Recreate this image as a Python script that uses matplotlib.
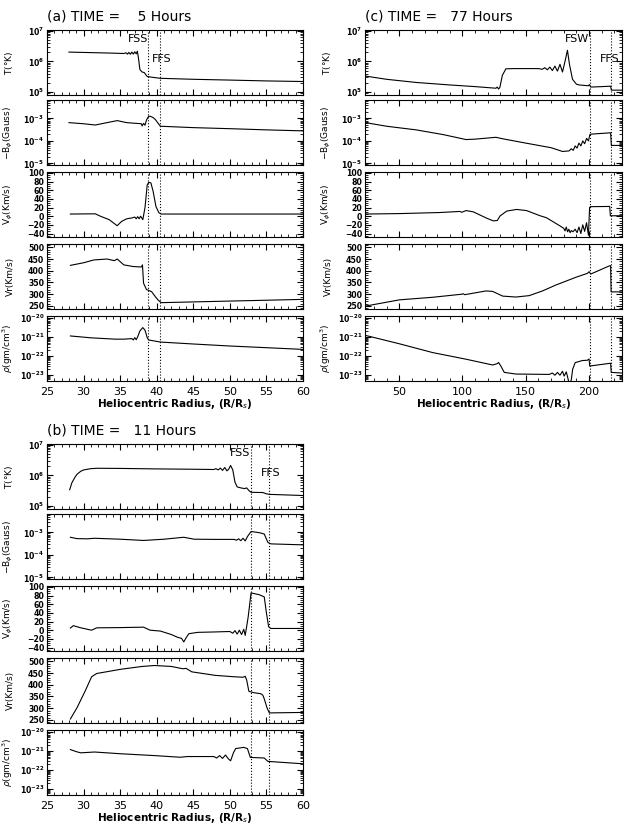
import matplotlib
matplotlib.use("Agg")
import matplotlib.pyplot as plt
from matplotlib.ticker import MultipleLocator, LogLocator, NullFormatter

plt.rcParams['font.family'] = 'DejaVu Sans'

# ---------------- panel (a) TIME = 5 hours ----------------
a_T_r = [28.0, 30.0, 32.0, 34.0, 35.5, 35.8, 36.0, 36.2, 36.4, 36.6, 36.8, 37.0, 37.2, 37.35,
         37.5, 37.7, 38.0, 38.3, 38.7, 39.5, 40.5, 45.0, 50.0, 55.0, 60.0]
a_T_v = [2.0e6, 1.95e6, 1.9e6, 1.85e6, 1.8e6, 1.9e6, 1.72e6, 1.95e6, 1.7e6, 2.0e6, 1.72e6, 2.05e6,
         1.75e6, 2.15e6, 1.3e6, 5.4e5, 4.5e5, 4.3e5, 3.2e5, 3.0e5, 2.8e5, 2.6e5, 2.45e5, 2.3e5, 2.2e5]

a_B_r = [28.0, 30.0, 31.6, 33.0, 34.6, 35.9, 37.9, 38.0, 38.2, 38.4, 38.6, 38.9, 39.1, 39.5,
         39.8, 40.5, 45.0, 50.0, 55.0, 60.0]
a_B_v = [6.5e-4, 5.8e-4, 5.1e-4, 6.3e-4, 8.0e-4, 6.5e-4, 5.8e-4, 4.6e-4, 6.0e-4, 5.0e-4, 8.5e-4,
         1.25e-3, 1.25e-3, 1.1e-3, 9.0e-4, 4.5e-4, 3.9e-4, 3.5e-4, 3.1e-4, 2.8e-4]

a_V_r = [28.2, 31.6, 32.3, 33.5, 34.6, 35.2, 35.9, 36.6, 37.0, 37.2, 37.4, 37.6, 37.8, 38.1,
         38.4, 38.7, 38.9, 39.2, 39.5, 39.9, 40.3, 40.6, 60.0]
a_V_v = [5, 5.5, 0, -8, -22, -12, -6, -4, -2, -6, -1, -6, 0, -8,
         20, 72, 78, 77, 58, 22, 8, 5, 5]

a_Vr_r = [28.2, 30.0, 31.4, 33.2, 34.2, 34.6, 35.5, 36.8, 37.9, 38.05, 38.2, 38.6, 39.3, 39.8,
          40.2, 40.6, 60.0]
a_Vr_v = [423, 434, 446, 450, 443, 450, 425, 418, 416, 425, 347, 320, 311, 290,
          275, 264, 278]

a_rho_r = [28.2, 31.0, 34.3, 35.5, 36.6, 36.8, 37.0, 37.2, 37.4, 37.7, 38.1, 38.4, 38.7, 38.9,
           40.5, 45.0, 50.0, 55.0, 60.0]
a_rho_v = [1.1e-21, 8.8e-22, 7.5e-22, 7.5e-22, 8.0e-22, 6.8e-22, 9.0e-22, 7.0e-22, 1.0e-21, 2.0e-21,
           3.0e-21, 2.2e-21, 9.0e-22, 6.8e-22, 5.3e-22, 4.2e-22, 3.3e-22, 2.7e-22, 2.2e-22]

# ---------------- panel (b) TIME = 11 hours ----------------
b_T_r = [28.1, 28.4, 28.8, 29.1, 29.6, 30.0, 31.0, 31.8, 35.0, 40.0, 45.0, 47.8, 48.1, 48.4,
         48.7, 49.0, 49.3, 49.6, 49.85, 50.1, 50.4, 50.7, 51.0, 51.5, 52.0, 52.3, 52.6, 52.9,
         54.5, 55.0, 55.4, 60.0]
b_T_v = [3.4e5, 5.7e5, 8.5e5, 1.08e6, 1.35e6, 1.5e6, 1.65e6, 1.7e6, 1.68e6, 1.62e6, 1.58e6, 1.55e6,
         1.65e6, 1.5e6, 1.72e6, 1.45e6, 1.8e6, 1.4e6, 1.6e6, 2.1e6, 1.5e6, 6.0e5, 4.2e5, 3.9e5,
         3.7e5, 3.9e5, 3.2e5, 2.8e5, 2.75e5, 2.5e5, 2.4e5, 2.2e5]

b_B_r = [28.2, 29.1, 30.5, 31.5, 35.0, 38.2, 41.0, 43.7, 45.1, 48.0, 50.6, 50.9, 51.2, 51.5,
         51.8, 52.1, 52.4, 52.9, 54.0, 54.7, 55.2, 55.6, 60.0]
b_B_v = [6.1e-4, 5.3e-4, 5.2e-4, 5.5e-4, 5.0e-4, 4.4e-4, 5.0e-4, 6.1e-4, 5.0e-4, 4.9e-4, 4.9e-4,
         4.5e-4, 5.2e-4, 4.3e-4, 5.5e-4, 4.2e-4, 6.5e-4, 1.1e-3, 9.8e-4, 8.5e-4, 3.6e-4, 3.1e-4, 2.8e-4]

b_V_r = [28.2, 28.6, 29.5, 31.1, 31.8, 35.0, 38.2, 39.1, 40.5, 42.0, 42.8, 43.4, 43.7, 44.0,
         44.4, 45.6, 48.0, 50.0, 50.4, 50.7, 51.0, 51.3, 51.6, 51.9, 52.1, 52.5, 52.9, 54.0,
         54.7, 55.0, 55.3, 55.6, 60.0]
b_V_v = [5, 10.5, 6, 0, 5.5, 6, 7, 0, -2, -10, -16, -19, -27, -18,
         -8, -5, -4, -3, -7, -1, -9, 0, -10, 2, -12, 30, 86, 82,
         77, 40, 8, 4, 4]

b_Vr_r = [28.2, 29.1, 30.2, 31.1, 31.8, 35.1, 38.0, 39.7, 42.0, 43.6, 44.0, 44.8, 48.0, 50.6,
          51.8, 52.1, 52.3, 52.6, 53.3, 54.2, 54.5, 54.7, 55.1, 55.4, 60.0]
b_Vr_v = [254, 302, 372, 434, 448, 466, 478, 482, 478, 468, 470, 455, 440, 434,
          432, 436, 420, 372, 366, 362, 356, 340, 300, 280, 282]

b_rho_r = [28.2, 29.0, 29.6, 31.5, 35.0, 39.7, 43.2, 44.2, 47.8, 48.2, 48.6, 49.0, 49.4, 49.8,
           50.1, 50.5, 50.8, 51.9, 52.4, 52.8, 54.7, 55.2, 60.0]
b_rho_v = [1.15e-21, 9.0e-22, 7.8e-22, 8.6e-22, 7.0e-22, 5.6e-22, 4.6e-22, 5.0e-22, 5.0e-22,
           4.2e-22, 5.6e-22, 4.0e-22, 6.0e-22, 3.8e-22, 3.0e-22, 8.0e-22, 1.3e-21, 1.5e-21,
           1.3e-21, 4.5e-22, 4.2e-22, 2.8e-22, 2.1e-22]

# ---------------- panel (c) TIME = 77 hours ----------------
c_T_r = [23.5, 40, 63.4, 90, 110, 126.4, 127.5, 128.5, 129.5, 131.5, 134.3, 140, 150, 160,
         163, 165, 167, 169, 171, 173, 175, 177, 179, 181, 182.9, 184.5, 186.9, 190, 192.1,
         199.5, 200.3, 201.3, 210, 217, 217.6, 226]
c_T_v = [3.3e5, 2.6e5, 2.05e5, 1.7e5, 1.5e5, 1.33e5, 1.45e5, 1.25e5, 1.4e5, 3.5e5, 5.7e5, 5.8e5,
         5.8e5, 5.8e5, 5.5e5, 6.2e5, 5.3e5, 6.5e5, 5.0e5, 7.0e5, 4.8e5, 8.0e5, 4.5e5, 1.0e6,
         2.3e6, 8.0e5, 2.6e5, 1.8e5, 1.7e5, 1.6e5, 1.75e5, 1.45e5, 1.5e5, 1.55e5, 1.15e5, 1.15e5]

c_B_r = [23.5, 40, 63.4, 85, 102.8, 110, 126.4, 131.6, 150, 170, 179, 184.2, 186, 187.5, 189,
         190.5, 192, 193.5, 195, 196.5, 198, 199.5, 200.6, 201.5, 217, 217.6, 226]
c_B_v = [6.5e-4, 4.5e-4, 3.1e-4, 1.9e-4, 1.15e-4, 1.2e-4, 1.45e-4, 1.25e-4, 8.0e-5, 5.0e-5, 3.4e-5,
         3.6e-5, 4.5e-5, 3.8e-5, 6.0e-5, 4.8e-5, 8.0e-5, 6.0e-5, 1.0e-4, 7.5e-5, 1.3e-4, 1.0e-4,
         1.9e-4, 2.0e-4, 2.3e-4, 6.3e-5, 6.3e-5]

c_V_r = [23.5, 50, 82.3, 98.1, 99.4, 102.8, 108.6, 119.1, 124.3, 127.5, 129.6, 134.9, 142.7,
         150.6, 161.1, 166.3, 176.8, 180, 181, 182, 183, 184, 185, 186, 187.3, 189, 190.5, 192,
         193.5, 195, 196.5, 198, 199.5, 200.4, 201.1, 216.3, 216.8, 226]
c_V_v = [5, 6, 8.5, 11, 9, 13, 10, -4.6, -10.7, -10, 0.3, 11.8, 15.6,
         13, 1.2, -3.5, -22, -28, -34, -25, -36, -30, -38, -33, -36, -30, -38, -25,
         -40, -20, -35, -15, -44, 20, 22, 22.5, 1, 1]

c_Vr_r = [24, 50.2, 76.5, 99.4, 100.5, 101.8, 108.1, 118.6, 123.8, 127.8, 131.7, 142.2, 152.7,
          163.2, 173.7, 189.5, 198.7, 200, 201.3, 215.7, 217, 217.4, 226]
c_Vr_v = [250, 276, 287, 300, 302, 298, 304, 314, 312, 302, 292, 288, 294,
          314, 339, 372, 389, 396, 386, 420, 422, 310, 310]

c_rho_r = [24, 50.2, 76.5, 102.8, 123.8, 127.5, 128.5, 130.3, 133, 142.2, 168.5, 171, 173, 175,
           177, 179, 180.3, 182, 183.5, 184.5, 186, 187, 189, 194.7, 198.7, 200, 200.5, 217,
           217.5, 226]
c_rho_v = [1.15e-21, 4.3e-22, 1.5e-22, 6.8e-23, 3.4e-23, 4.0e-23, 4.6e-23, 3.0e-23, 1.4e-23,
           1.15e-23, 1.1e-23, 1.3e-23, 1.0e-23, 1.4e-23, 1.0e-23, 1.6e-23, 9.0e-24, 1.5e-23,
           6.0e-24, 3.0e-24, 6.0e-24, 2.0e-23, 4.5e-23, 5.8e-23, 6.0e-23, 7.0e-23, 3.0e-23,
           4.2e-23, 1.4e-23, 1.3e-23]

# shock markers: (position, label, label x, label y in axes fraction, alignment)
a_marks = [(38.8, 'FSS', 38.8, 0.86, 'right'), (40.4, 'FFS', 39.4, 0.56, 'left')]
b_marks = [(52.9, 'FSS', 52.8, 0.86, 'right'), (55.3, 'FFS', 54.2, 0.56, 'left')]
c_marks = [(200.5, 'FSW', 199.8, 0.86, 'right'), (217.2, 'FFS', 208.5, 0.56, 'left')]

W, H = 632.0, 831.0
fig = plt.figure(figsize=(6.32, 8.31), dpi=100)

ylabels = ['T($\\degree$K)', '$-$B$_\\phi$(Gauss)', 'V$_\\phi$(Km/s)', 'Vr(Km/s)',
           '$\\rho$(gm/cm$^3$)']


def draw_run(left, width, top0, title, curves, marks, xlim, xmaj, xmin):
    tops = [top0, top0 + 70, top0 + 142, top0 + 214, top0 + 286]
    h = 65
    fig.text(left / W, 1 - (top0 - 13) / H, title, fontsize=10, va='center', ha='left')
    for i, (r, v) in enumerate(curves):
        ax = fig.add_axes([left / W, 1 - (tops[i] + h) / H, width / W, h / H])
        ax.plot(r, v, color='black', lw=0.8)
        ax.set_xlim(xlim)
        if i in (0, 1, 4):
            ax.set_yscale('log')
            if i == 0:
                ax.set_ylim(8e4, 1.05e7)
            elif i == 1:
                ax.set_ylim(8.5e-6, 6.6e-3)
            else:
                ax.set_ylim(5e-24, 1.2e-20)
            ax.yaxis.set_major_locator(LogLocator(base=10, numticks=20))
            ax.yaxis.set_minor_locator(LogLocator(base=10, subs=range(2, 10), numticks=20))
            ax.yaxis.set_minor_formatter(NullFormatter())
        elif i == 2:
            ax.set_ylim(-48, 102)
            ax.yaxis.set_major_locator(MultipleLocator(20))
            ax.yaxis.set_minor_locator(MultipleLocator(5))
        else:
            ax.set_ylim(237, 514)
            ax.yaxis.set_major_locator(MultipleLocator(50))
            ax.yaxis.set_minor_locator(MultipleLocator(10))
        ax.xaxis.set_major_locator(MultipleLocator(xmaj))
        ax.xaxis.set_minor_locator(MultipleLocator(xmin))
        ax.tick_params(which='both', direction='in', top=True, right=True)
        ax.tick_params(which='major', length=4, width=0.8)
        ax.tick_params(which='minor', length=2, width=0.6)
        ax.tick_params(axis='y', labelsize=5.6, pad=2)
        for lab in ax.get_yticklabels():
            lab.set_fontweight('bold')
        ax.set_ylabel(ylabels[i], fontsize=6.5)
        ax.yaxis.set_label_coords(-0.125, 0.5)
        for m in marks:
            ax.axvline(m[0], color='black', ls=':', lw=0.8)
        if i == 0:
            for m in marks:
                ax.text(m[2], m[3], m[1], transform=ax.get_xaxis_transform(),
                        ha=m[4], va='center', fontsize=8)
        if i == 4:
            ax.tick_params(axis='x', labelsize=8, pad=4)
            ax.set_xlabel('Heliocentric Radius, (R/R$_s$)', fontsize=7.5, fontweight='bold',
                          labelpad=0)
        else:
            ax.tick_params(axis='x', labelbottom=False)


draw_run(47, 256, 30, '(a) TIME =    5 Hours',
         [(a_T_r, a_T_v), (a_B_r, a_B_v), (a_V_r, a_V_v), (a_Vr_r, a_Vr_v), (a_rho_r, a_rho_v)],
         a_marks, (25, 60), 5, 1)
draw_run(47, 256, 444, '(b) TIME =   11 Hours',
         [(b_T_r, b_T_v), (b_B_r, b_B_v), (b_V_r, b_V_v), (b_Vr_r, b_Vr_v), (b_rho_r, b_rho_v)],
         b_marks, (25, 60), 5, 1)
draw_run(365, 257, 30, '(c) TIME =   77 Hours',
         [(c_T_r, c_T_v), (c_B_r, c_B_v), (c_V_r, c_V_v), (c_Vr_r, c_Vr_v), (c_rho_r, c_rho_v)],
         c_marks, (23, 226), 50, 10)

fig.savefig('out.png', dpi=100)
